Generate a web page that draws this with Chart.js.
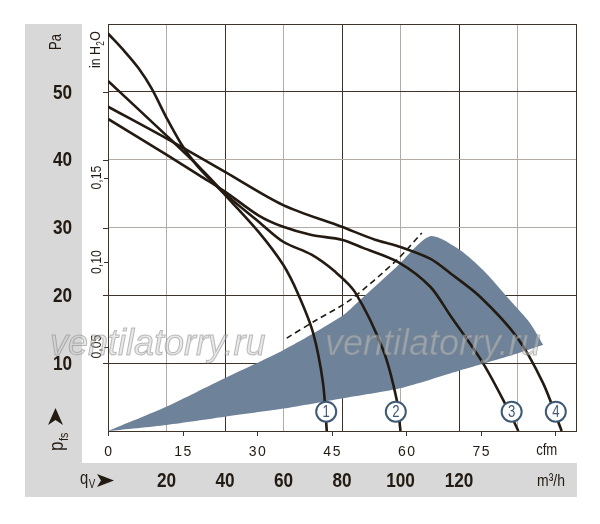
<!DOCTYPE html>
<html>
<head>
<meta charset="utf-8">
<script src="https://cdn.jsdelivr.net/npm/chart.js@4.4.1/dist/chart.umd.min.js"></script>
<style>
  html, body { margin: 0; padding: 0; background: #fff; }
  canvas { display: block; }
</style>
</head>
<body>
<canvas id="fanChart" width="600" height="524"></canvas>
<script>
// axis ticks
var flowTicks = [20, 40, 60, 80, 100, 120];          // m3/h, grey band
var cfmTicks = [0, 15, 30, 45, 60, 75, 90];           // cfm, 90 carries the unit
var paTicks = [10, 20, 30, 40, 50];
var inchTicks = [0.05, 0.10, 0.15];                    // in H2O

// fan curves (flow m3/h, static pressure Pa)
var curve1Flow     = [0, 5.8, 10.4, 14.9, 20.1, 25.2, 30.3, 35.5, 40.0, 51.4, 59.9, 65.1, 70.1, 73.5, 74.8];
var curve1Pressure = [58.6, 55.9, 53.5, 50.5, 46.1, 42.2, 39.2, 36.8, 34.8, 29.4, 24.5, 20.1, 14.5, 7.1, 0];

var curve2Flow     = [0, 20.1, 31.5, 40.0, 51.4, 59.9, 69.6, 77.6, 84.4, 94.1, 98.7, 100.0];
var curve2Pressure = [51.6, 43.5, 38.8, 35.0, 30.9, 27.9, 26.0, 23.5, 20.5, 11.9, 4.6, 0];

var curve3Flow     = [0, 20.1, 31.5, 40.0, 51.4, 59.9, 69.6, 79.9, 87.2, 99.2, 110.1, 116.9, 128.2, 136.4, 140.3];
var curve3Pressure = [46.0, 40.7, 37.6, 35.3, 31.8, 30.1, 28.9, 28.2, 27.0, 24.9, 21.3, 17.1, 10.0, 3.5, 0];

var curve4Flow     = [0, 20.1, 40.0, 59.9, 79.9, 91.3, 98.7, 110.1, 116.9, 127.2, 139.7, 148.7, 155.1];
var curve4Pressure = [47.8, 43.1, 38.2, 33.3, 30.1, 28.2, 27.3, 25.4, 23.3, 19.8, 13.9, 7.1, 0];

// shaded working range
var areaTopFlow        = [0, 20.1, 40.0, 59.9, 79.9, 86.2, 98.7, 110.1, 120.3, 128.3, 137.4, 144.3, 148.8];
var areaTopPressure    = [0, 3.6, 7.8, 11.9, 16.9, 19.3, 24.2, 28.7, 26.7, 23.7, 19.3, 15.9, 12.7];
var areaBottomFlow     = [0, 20.1, 40.0, 59.9, 79.9, 99.8, 120.0, 139.7, 148.8];
var areaBottomPressure = [0, 0.9, 2.1, 3.3, 4.8, 6.3, 8.9, 11.4, 12.7];

// dashed line
var dashFlow     = [61.1, 71.4, 82.7, 98.7, 107.3];
var dashPressure = [13.7, 16.4, 19.3, 25.2, 29.2];

// numbered markers
var markerLabels = ['1', '2', '3', '4'];
var markerFlow = [74.6, 98.4, 138.0, 153.1];
var markerPressure = [2.85, 2.85, 2.85, 2.85];

var M3H_PER_CFM = 1.69901;
var PA_PER_INCH = 249.089;

var ink = '#231a12';
var gridDark = '#3e3328';
var gridLight = '#b3aca4';
var markerBlue = '#3f5a74';
var sans = '"Liberation Sans", Arial, sans-serif';
var squeeze = 0.82;   // fake a condensed face

function pts(xs, ys) {
  return xs.map(function (x, i) { return { x: x, y: ys[i] }; });
}

function curve(xs, ys) {
  return {
    data: pts(xs, ys),
    borderColor: ink,
    borderWidth: 2.6,
    pointRadius: 0,
    fill: false,
    tension: 0.3,
    order: 1
  };
}

// text drawn in a narrowed face; rot = true turns it to read bottom-up
function say(ctx, text, x, y, font, align, rot) {
  ctx.save();
  ctx.translate(x, y);
  if (rot) ctx.rotate(-Math.PI / 2);
  ctx.scale(squeeze, 1);
  ctx.font = font;
  ctx.textAlign = align;
  ctx.fillText(text, 0, 0);
  var w = ctx.measureText(text).width * squeeze;
  ctx.restore();
  return w;
}

var decor = {
  id: 'decor',
  beforeDraw: function (chart) {
    var ctx = chart.ctx;
    ctx.save();
    ctx.fillStyle = '#d8d8d8';
    ctx.fillRect(25, 24, 57, 473);
    ctx.fillRect(25, 463, 552, 34);
    ctx.restore();
  },
  afterDraw: function (chart) {
    var ctx = chart.ctx;
    var xs = chart.scales.x, ys = chart.scales.y;
    var area = chart.chartArea;
    ctx.save();

    // small tick stubs outside the plot
    ctx.strokeStyle = gridDark;
    ctx.lineWidth = 1;
    ctx.beginPath();
    paTicks.forEach(function (v) {
      var y = Math.round(ys.getPixelForValue(v)) + 0.5;
      ctx.moveTo(area.left - 5, y); ctx.lineTo(area.left, y);
    });
    inchTicks.forEach(function (v) {
      var y = Math.round(ys.getPixelForValue(v * PA_PER_INCH)) + 0.5;
      ctx.moveTo(area.left - 4, y); ctx.lineTo(area.left, y);
    });
    cfmTicks.forEach(function (v) {
      var x = Math.round(xs.getPixelForValue(v * M3H_PER_CFM)) + 0.5;
      ctx.moveTo(x, area.bottom); ctx.lineTo(x, area.bottom + 5);
    });
    ctx.stroke();

    ctx.fillStyle = ink;
    ctx.textBaseline = 'middle';

    // Pa labels
    paTicks.forEach(function (v) {
      say(ctx, String(v), 62.5, ys.getPixelForValue(v) + 1, 'bold 21px ' + sans, 'center');
    });

    // m3/h labels
    flowTicks.forEach(function (v) {
      say(ctx, String(v), xs.getPixelForValue(v), 481, 'bold 21px ' + sans, 'center');
    });
    say(ctx, 'm³/h', area.right - 11, 481, '17px ' + sans, 'right');

    // cfm labels
    ctx.font = '14px ' + sans;
    ctx.letterSpacing = '1.5px';
    ctx.textAlign = 'center';
    cfmTicks.forEach(function (v) {
      if (v === 90) return;
      ctx.fillText(String(v), xs.getPixelForValue(v * M3H_PER_CFM) + 1, 452);
    });
    ctx.letterSpacing = '0px';
    say(ctx, 'cfm', xs.getPixelForValue(90 * M3H_PER_CFM) + 2, 451, '16px ' + sans, 'right');

    // in H2O labels (rotated)
    ctx.textBaseline = 'alphabetic';
    inchTicks.forEach(function (v) {
      say(ctx, v.toFixed(2).replace('.', ','), 101, ys.getPixelForValue(v * PA_PER_INCH), '15px ' + sans, 'center', true);
    });
    var w = say(ctx, 'in H', 100, 68, '15px ' + sans, 'left', true);
    ctx.save();
    ctx.translate(100, 68);
    ctx.rotate(-Math.PI / 2);
    ctx.scale(squeeze, 1);
    ctx.font = '10px ' + sans;
    ctx.textAlign = 'left';
    ctx.fillText('2', w / squeeze + 0.5, 4);
    var w2 = ctx.measureText('2').width;
    ctx.font = '15px ' + sans;
    ctx.fillText('O', w / squeeze + w2 + 1, 0);
    ctx.restore();

    // Pa unit
    say(ctx, 'Pa', 61, 42, '16px ' + sans, 'center', true);

    // p_fs with arrow
    var wp = say(ctx, 'p', 63, 451, '21px ' + sans, 'left', true);
    say(ctx, 'fs', 68, 451 - wp - 0.5, '13px ' + sans, 'left', true);
    ctx.beginPath();
    ctx.moveTo(55.5, 408); ctx.lineTo(63, 425); ctx.lineTo(55.5, 420); ctx.lineTo(48, 425);
    ctx.closePath();
    ctx.fill();

    // q_V with arrow
    var wq = say(ctx, 'q', 80, 484, '18px ' + sans, 'left');
    say(ctx, 'V', 80 + wq + 0.5, 488, '12px ' + sans, 'left');
    ctx.beginPath();
    ctx.moveTo(97, 474); ctx.lineTo(114, 480.5); ctx.lineTo(97, 487); ctx.lineTo(101, 480.5);
    ctx.closePath();
    ctx.fill();

    // numbers in the markers
    var meta = chart.getDatasetMeta(0);
    ctx.fillStyle = markerBlue;
    ctx.textBaseline = 'middle';
    meta.data.forEach(function (p, i) {
      say(ctx, markerLabels[i], p.x, p.y + 1, '16px ' + sans, 'center');
    });

    // watermark
    ctx.font = 'italic 36px ' + sans;
    ctx.textAlign = 'left';
    ctx.textBaseline = 'alphabetic';
    ctx.fillStyle = 'rgba(205,205,205,0.45)';
    ctx.strokeStyle = 'rgba(130,130,130,0.5)';
    ctx.lineWidth = 1;
    [50, 325].forEach(function (x) {
      ctx.fillText('ventilatorry.ru', x, 355);
      ctx.strokeText('ventilatorry.ru', x, 355);
    });

    ctx.restore();
  }
};

new Chart(document.getElementById('fanChart'), {
  type: 'line',
  data: {
    datasets: [
      {
        data: pts(markerFlow, markerPressure),
        showLine: false,
        pointRadius: 10,
        pointBackgroundColor: '#fff',
        pointBorderColor: markerBlue,
        pointBorderWidth: 2,
        order: 0
      },
      curve(curve1Flow, curve1Pressure),
      curve(curve2Flow, curve2Pressure),
      curve(curve3Flow, curve3Pressure),
      curve(curve4Flow, curve4Pressure),
      {
        data: pts(dashFlow, dashPressure),
        borderColor: ink,
        borderWidth: 1.6,
        borderDash: [6, 4],
        pointRadius: 0,
        fill: false,
        tension: 0.3,
        order: 2
      },
      {
        data: pts(areaTopFlow, areaTopPressure),
        borderWidth: 0,
        borderColor: 'rgba(0,0,0,0)',
        backgroundColor: '#6e8399',
        pointRadius: 0,
        fill: '+1',
        tension: 0.25,
        order: 3
      },
      {
        data: pts(areaBottomFlow, areaBottomPressure),
        borderWidth: 0,
        borderColor: 'rgba(0,0,0,0)',
        pointRadius: 0,
        fill: false,
        tension: 0.25,
        order: 4
      }
    ]
  },
  options: {
    responsive: false,
    animation: false,
    layout: { padding: { left: 108, top: 24, right: 24, bottom: 93 } },
    plugins: { legend: { display: false }, tooltip: { enabled: false } },
    scales: {
      x: {
        type: 'linear',
        min: 0,
        max: 160,
        ticks: { stepSize: 20, display: false },
        grid: {
          drawTicks: false,
          lineWidth: 1,
          color: function (c) { return c.tick && c.tick.value % 40 === 0 ? gridDark : gridLight; }
        },
        border: { color: gridDark, width: 1 },
        afterFit: function (s) { s.height = 0; }
      },
      y: {
        min: 0,
        max: 60,
        ticks: { stepSize: 10, display: false },
        grid: {
          drawTicks: false,
          lineWidth: 1,
          color: function (c) {
            var v = c.tick ? c.tick.value : 0;
            return (v === 40 || v === 30) ? gridLight : gridDark;
          }
        },
        border: { color: gridDark, width: 1 },
        afterFit: function (s) { s.width = 0; }
      }
    }
  },
  plugins: [decor]
});
</script>
</body>
</html>
